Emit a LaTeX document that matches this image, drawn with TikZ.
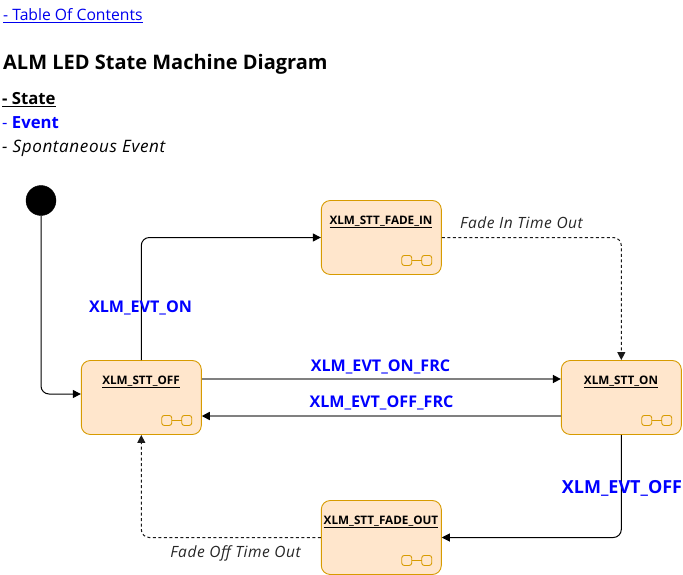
\documentclass[tikz,border=0pt]{standalone}
\usepackage{fontspec}
\setmainfont{Open Sans}
\newfontface\spacedit[LetterSpace=3.5]{Open Sans Italic}
\usetikzlibrary{arrows.meta,calc}
\definecolor{stfill}{HTML}{FFE6CC}
\definecolor{stline}{HTML}{D79B00}
\definecolor{evblue}{HTML}{0000FF}
\definecolor{linkblue}{HTML}{0000EE}
\tikzset{
  x=1pt,y=-1pt,
  statebox/.style={draw=stline,fill=stfill,rounded corners=9pt,minimum width=120pt,minimum height=74pt,line width=0.9pt,inner sep=0pt},
  statename/.style={font=\bfseries\fontsize{11.7}{14}\selectfont,inner sep=0pt,anchor=center},
  mini/.style={draw=stline,rounded corners=2.5pt,line width=0.9pt},
  conn/.style={-{Triangle[length=8pt,width=8pt]},line width=1pt,rounded corners=8pt,black},
  heavy/.style={-{Triangle[length=8pt,width=8pt,color=black]},line width=1.6pt,draw=black!50},
  dashconn/.style={conn,dash pattern=on 3pt off 2.5pt,draw=black!90},
  evlabel/.style={font=\bfseries\fontsize{16.1}{19}\selectfont,text=evblue,inner sep=0pt},
  spont/.style={font=\spacedit\fontsize{15.5}{18}\selectfont,text=black!85,inner sep=0pt},
  head/.style={anchor=base west,inner sep=0pt}
}
\newcommand{\glyph}[1]{%
  \draw[mini] ($(#1.south east)+(-40,-19.5)$) rectangle ++(10,10);
  \draw[mini] ($(#1.south east)+(-20,-19.5)$) rectangle ++(10,10);
  \draw[stline,line width=0.9pt] ($(#1.south east)+(-30,-14.5)$) -- ++(10,0);
}
\begin{document}
\begin{tikzpicture}
\useasboundingbox (0,0) rectangle (683,575);
\node[head,font=\fontsize{15.7}{19}\selectfont,text=linkblue] (toc) at (3,21) {\underline{- Table Of Contents}};
\node[head,font=\bfseries\fontsize{20}{24}\selectfont] (title) at (3,69.5) {ALM LED State Machine Diagram};
\node[head,font=\fontsize{16.7}{20}\selectfont] (l1) at (2,104.7) {\underline{\textbf{- State}}};
\node[head,font=\fontsize{16.7}{20}\selectfont,text=evblue] (l2) at (2,128.7) {- \textbf{Event}};
\node[head,font=\spacedit\fontsize{17.1}{20}\selectfont] (l3) at (2,152.7) {- Spontaneous Event};

\node[circle,fill=black,draw=black,minimum size=30pt,inner sep=0pt] (init) at (41,200.5) {};
\node[statebox] (fadein) at (381.3,237.5) {};
\node[statebox] (off) at (141.3,397.5) {};
\node[statebox] (on) at (621.3,397.5) {};
\node[statebox] (fadeout) at (381.3,537.5) {};
\node[statename] (nfi) at (381,221.7) {\underline{XLM\_STT\_FADE\_IN}};
\node[statename] (noff) at (141,381.7) {\underline{XLM\_STT\_OFF}};
\node[statename] (non) at (621,381.7) {\underline{XLM\_STT\_ON}};
\node[statename] (nfo) at (381,521.7) {\underline{XLM\_STT\_FADE\_OUT}};
\glyph{fadein}\glyph{off}\glyph{on}\glyph{fadeout}

\coordinate (offin) at ($(off.west)+(0,-3.5)$);
\coordinate (offa) at ($(off.east)+(0,-18.5)$);
\coordinate (ona) at ($(on.west)+(0,-18.5)$);
\coordinate (onb) at ($(on.west)+(0,18.5)$);
\coordinate (offb) at ($(off.east)+(0,18.5)$);
\draw[conn] (init.south) |- (offin);
\draw[conn] (off.north) |- (fadein.west);
\draw[dashconn] (fadein.east) -| (on.north);
\draw[heavy] (offa) -- (ona);
\draw[heavy] (onb) -- (offb);
\draw[conn] (on.south) |- (fadeout.east);
\draw[dashconn] (fadeout.west) -| (off.south);

\node[evlabel] (e1) at (140.5,307.5) {XLM\_EVT\_ON};
\node[evlabel] (e2) at (380.5,366.5) {XLM\_EVT\_ON\_FRC};
\node[evlabel] (e3) at (381.5,403) {XLM\_EVT\_OFF\_FRC};
\node[evlabel,font=\bfseries\fontsize{18}{22}\selectfont] (e4) at (622,488) {XLM\_EVT\_OFF};
\node[spont] (s1) at (521.5,223) {Fade In Time Out};
\node[spont] (s2) at (235.5,553) {Fade Off Time Out};
\end{tikzpicture}
\end{document}
